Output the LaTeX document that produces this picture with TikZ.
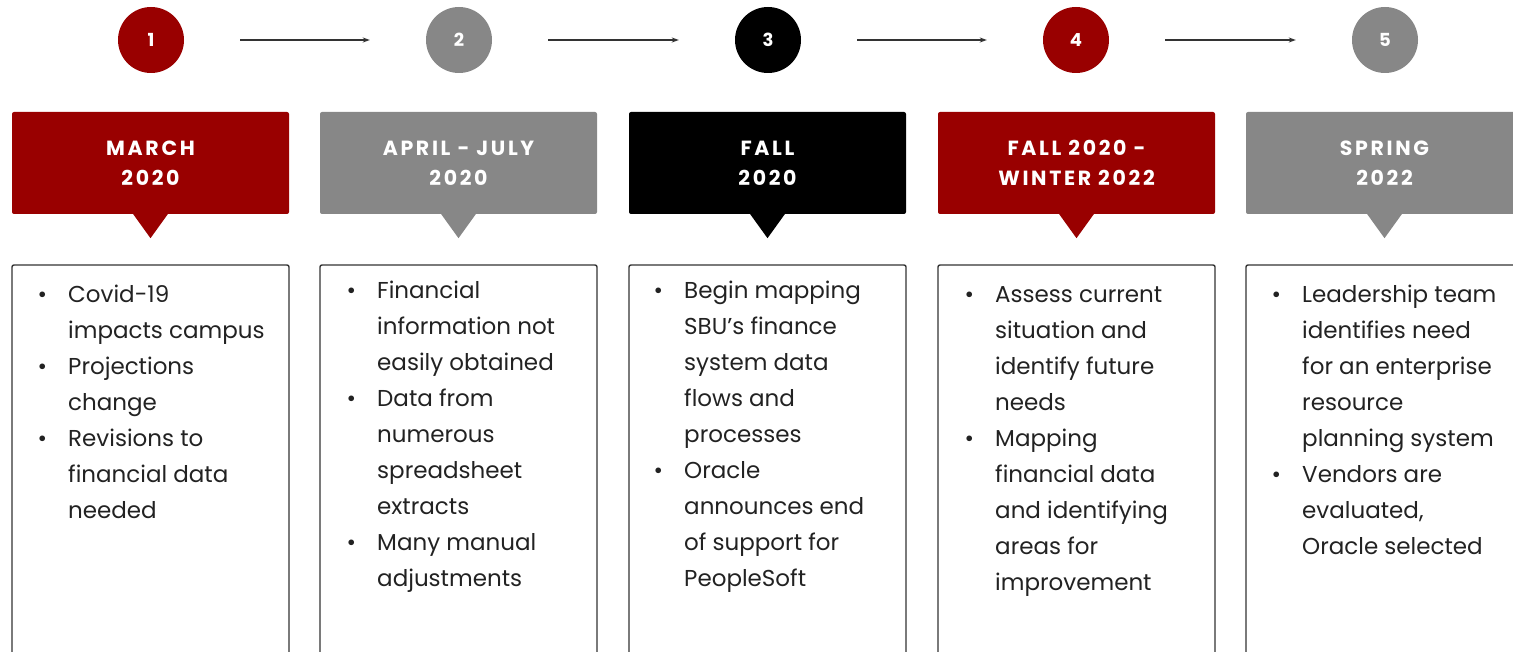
\documentclass[tikz,border=0pt]{standalone}
\usepackage{fontspec}
\setmainfont{Poppins}
\newfontfamily\bannerfont[LetterSpace=13]{Poppins}
\usetikzlibrary{arrows.meta}
\definecolor{cred}{HTML}{990000}
\definecolor{cgray}{HTML}{878787}
\definecolor{cblack}{HTML}{000000}
\definecolor{ctext}{HTML}{222222}
\definecolor{cline}{HTML}{333333}
\tikzset{
  num/.style={circle, minimum size=66pt, inner sep=0pt, text=white, font=\fontsize{18}{18}\selectfont\bfseries},
  banner/.style={rectangle, rounded corners=2pt, minimum width=277pt, minimum height=102pt, inner sep=0pt, text=white, align=center, font=\bannerfont\fontsize{20.5}{30}\selectfont\bfseries},
  flow/.style={-{Stealth[length=7pt,width=5pt]}, line width=1.2pt, draw=cline},
  body/.style={anchor=base west, align=left, inner sep=0pt, text=ctext, font=\fontsize{23}{36}\selectfont},
  panel/.style={draw=cline, line width=1.4pt, rounded corners=2pt},
}
\newcommand{\bul}{\llap{\textbullet\hspace{21pt}}}
\begin{document}
\begin{tikzpicture}[x=1pt,y=-1pt]
\useasboundingbox (0,0) rectangle (1513,652);
\clip (0,0) rectangle (1513,652);
% circles
\node[num, fill=cred]   (c1) at (151,40)  {1};
\node[num, fill=cgray]  (c2) at (459,40)  {2};
\node[num, fill=cblack] (c3) at (768,40)  {3};
\node[num, fill=cred]   (c4) at (1076,40) {4};
\node[num, fill=cgray]  (c5) at (1385,40) {5};
% arrows
\draw[flow] ([xshift=56pt]c1.east) -- ([xshift=-56pt]c2.west);
\draw[flow] ([xshift=56pt]c2.east) -- ([xshift=-56pt]c3.west);
\draw[flow] ([xshift=56pt]c3.east) -- ([xshift=-56pt]c4.west);
\draw[flow] ([xshift=56pt]c4.east) -- ([xshift=-56pt]c5.west);
% banners
\node[banner, fill=cred]   (b1) at (150.5,163)  {MARCH\\2020};
\node[banner, fill=cgray]  (b2) at (458.5,163)  {APRIL - JULY\\2020};
\node[banner, fill=cblack] (b3) at (767.5,163)  {FALL\\2020};
\node[banner, fill=cred]   (b4) at (1076.5,163) {FALL 2020 -\\WINTER 2022};
\node[banner, fill=cgray]  (b5) at (1384.5,163) {SPRING\\2022};
\foreach \b/\c in {b1/cred, b2/cgray, b3/cblack, b4/cred, b5/cgray}{
  \fill[\c] ([xshift=-18pt,yshift=1pt]\b.south) -- ([yshift=-24pt]\b.south) -- ([xshift=18pt,yshift=1pt]\b.south) -- cycle;
}
% panels
\draw[panel] (12,655) -- (12,265) -- (289,265) -- (289,655);
\draw[panel] (320,655) -- (320,265) -- (597,265) -- (597,655);
\draw[panel] (629,655) -- (629,265) -- (906,265) -- (906,655);
\draw[panel] (938,655) -- (938,265) -- (1215,265) -- (1215,655);
\draw[panel] (1246,655) -- (1246,265) -- (1523,265) -- (1523,655);
% texts (anchor = baseline of last line)
\node[body] (t1) at (68,518) {\bul Covid-19\\impacts campus\\\bul Projections\\change\\\bul Revisions to\\financial data\\needed};
\node[body] (t2) at (377,586) {\bul Financial\\information not\\easily obtained\\\bul Data from\\numerous\\spreadsheet\\extracts\\\bul Many manual\\adjustments};
\node[body] (t3) at (684,586) {\bul Begin mapping\\SBU’s finance\\system data\\flows and\\processes\\\bul Oracle\\announces end\\of support for\\PeopleSoft};
\node[body] (t4) at (995,590) {\bul Assess current\\situation and\\identify future\\needs\\\bul Mapping\\financial data\\and identifying\\areas for\\improvement};
\node[body] (t5) at (1302,554) {\bul Leadership team\\identifies need\\for an enterprise\\resource\\planning system\\\bul Vendors are\\evaluated,\\Oracle selected};
\end{tikzpicture}
\end{document}
